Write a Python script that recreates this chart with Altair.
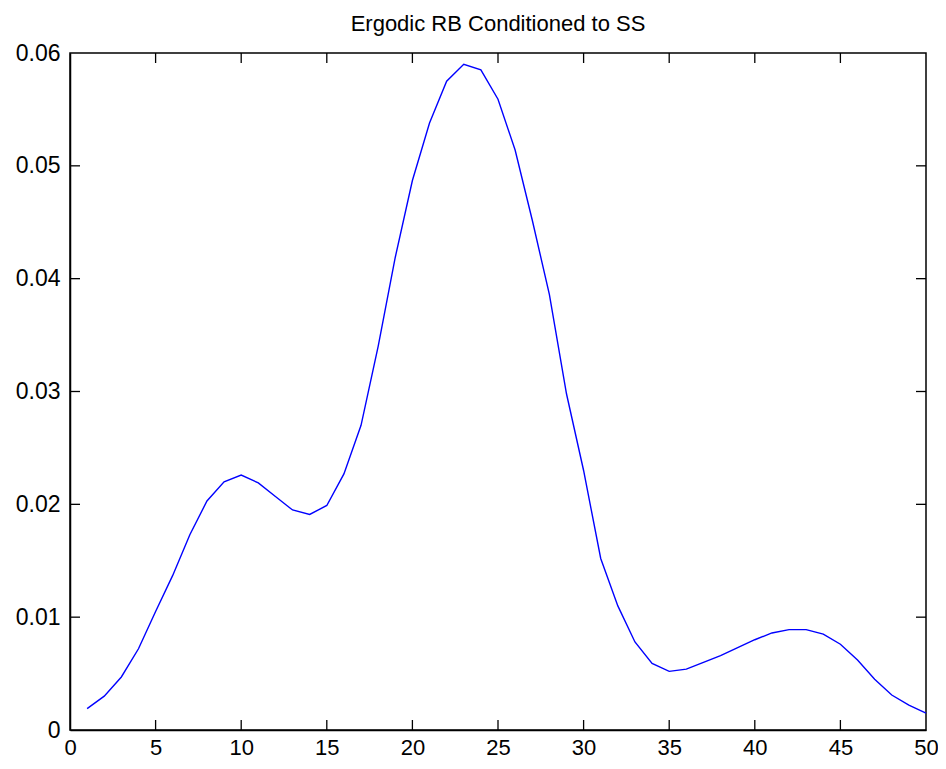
import altair as alt
import pandas as pd

# Data
x_vals = list(range(1, 51))
y_vals = [
    0.0019, 0.0030, 0.0047, 0.0072, 0.0105, 0.0137, 0.0173, 0.0203, 0.0220, 0.0226,
    0.0219, 0.0207, 0.0195, 0.0191, 0.0199, 0.0227, 0.0270, 0.0340, 0.0419, 0.0487,
    0.0538, 0.0575, 0.0590, 0.0585, 0.0559, 0.0514, 0.0452, 0.0386, 0.0298, 0.0230,
    0.0152, 0.0110, 0.0078, 0.0059, 0.0052, 0.0054, 0.0060, 0.0066, 0.0073, 0.0080,
    0.0086, 0.0089, 0.0089, 0.0085, 0.0076, 0.0062, 0.0045, 0.0031, 0.0022, 0.0015,
]
x_ticks = [0, 5, 10, 15, 20, 25, 30, 35, 40, 45, 50]
y_ticks = [0, 0.01, 0.02, 0.03, 0.04, 0.05, 0.06]
title_text = "Ergodic RB Conditioned to SS"

W, H = 856, 677
TL = 10  # tick length
FONT = "Liberation Sans"

df = pd.DataFrame({"x": x_vals, "y": y_vals})
xt = pd.DataFrame({"t": x_ticks[1:-1]})
yt = pd.DataFrame({"t": y_ticks[1:-1]})

xscale = alt.Scale(domain=[0, 50], nice=False, zero=False)
yscale = alt.Scale(domain=[0, 0.06], nice=False, zero=False)

line = alt.Chart(df).mark_line(color="#0000ff", strokeWidth=1.4).encode(
    x=alt.X("x:Q", scale=xscale, title=None,
            axis=alt.Axis(values=x_ticks, tickSize=0, labelFontSize=22, labelFont=FONT,
                          labelColor="black", labelPadding=7, domainColor="black",
                          domainWidth=1.5, grid=False, labelFlush=False)),
    y=alt.Y("y:Q", scale=yscale, title=None,
            axis=alt.Axis(values=y_ticks, tickSize=0, labelFontSize=23, labelFont=FONT,
                          labelColor="black", labelPadding=10, domainColor="black",
                          domainWidth=1.5, grid=False, labelFlush=False,
                          labelExpr="datum.value == 0 ? '0' : format(datum.value, '.2f')")),
)

tick_style = dict(color="black", strokeWidth=1.3)

bottom_ticks = alt.Chart(xt).mark_rule(**tick_style).encode(
    x=alt.X("t:Q", scale=xscale), y=alt.value(H), y2=alt.value(H - TL))
top_ticks = alt.Chart(xt).mark_rule(**tick_style).encode(
    x=alt.X("t:Q", scale=xscale), y=alt.value(0), y2=alt.value(TL))
left_ticks = alt.Chart(yt).mark_rule(**tick_style).encode(
    y=alt.Y("t:Q", scale=yscale), x=alt.value(0), x2=alt.value(TL))
right_ticks = alt.Chart(yt).mark_rule(**tick_style).encode(
    y=alt.Y("t:Q", scale=yscale), x=alt.value(W), x2=alt.value(W - TL))

chart = alt.layer(line, bottom_ticks, top_ticks, left_ticks, right_ticks).properties(
    width=W, height=H,
    title=alt.TitleParams(title_text, fontSize=22, font=FONT, fontWeight="normal",
                          color="black", offset=6, anchor="middle"),
    autosize=alt.AutoSizeParams(type="none"),
    padding={"left": 62, "top": 45, "right": 12, "bottom": 31},
    background="white",
).configure_view(stroke="black", strokeWidth=1.5)

chart.save("out.html", embed_options={"renderer": "svg", "actions": False})
